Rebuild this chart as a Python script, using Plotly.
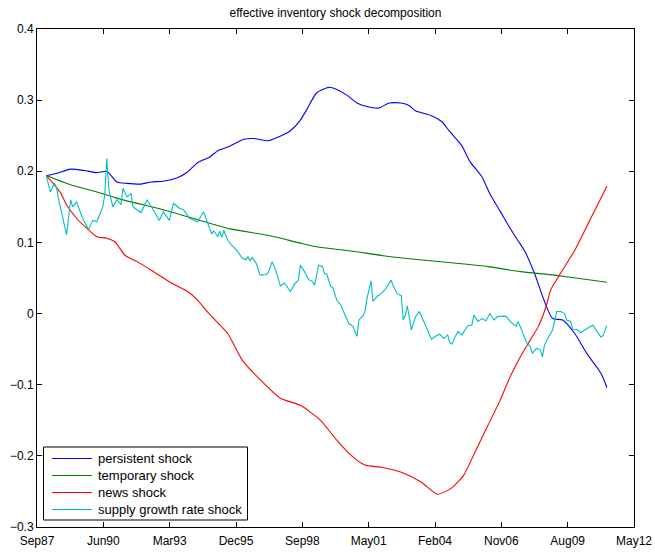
import pandas as pd
import plotly.graph_objects as go

# ---- series data (monthly observations, Jan 1988 - Mar 2011) ----
persistent_dates = [
    "1988-01", "1988-06", "1989-01", "1989-08", "1990-02", "1990-07", "1990-12",
    "1991-05", "1991-12", "1992-05", "1992-11", "1993-06", "1993-11", "1994-04",
    "1994-10", "1995-02", "1995-07", "1996-03", "1996-08", "1997-03", "1997-11",
    "1998-02", "1998-07", "1998-10", "1999-03", "1999-09", "2000-01", "2000-06",
    "2000-11", "2001-04", "2001-10", "2002-03", "2002-09", "2003-01", "2003-04",
    "2003-12", "2004-05", "2004-09", "2005-03", "2005-07", "2006-01", "2006-05",
    "2006-10", "2007-03", "2007-07", "2007-10", "2008-03", "2008-08", "2008-12",
    "2009-05", "2009-11", "2010-05", "2010-12", "2011-03",
]
persistent_shock = [
    0.194, 0.197, 0.203, 0.201, 0.198, 0.200, 0.185,
    0.183, 0.182, 0.185, 0.186, 0.191, 0.199, 0.212,
    0.220, 0.229, 0.234, 0.245, 0.246, 0.243, 0.252,
    0.257, 0.272, 0.286, 0.310, 0.318, 0.315, 0.307,
    0.296, 0.291, 0.289, 0.296, 0.296, 0.292, 0.285,
    0.278, 0.270, 0.256, 0.236, 0.214, 0.192, 0.168,
    0.144, 0.120, 0.102, 0.089, 0.057, 0.017, -0.007,
    -0.009, -0.028, -0.056, -0.084, -0.104,
]

temporary_dates = [
    "1988-01", "1989-01", "1990-02", "1990-11", "1991-07", "1992-11", "1994-04",
    "1995-08", "1997-03", "1998-07", "1999-03", "2000-08", "2002-01", "2003-05",
    "2004-11", "2006-04", "2007-08", "2009-01", "2010-05", "2011-03",
]
temporary_shock = [
    0.194, 0.181, 0.171, 0.163, 0.157, 0.146, 0.132,
    0.119, 0.110, 0.099, 0.094, 0.088, 0.081, 0.076,
    0.071, 0.066, 0.059, 0.054, 0.048, 0.044,
]

news_dates = [
    "1988-01", "1988-05", "1988-08", "1988-11", "1989-04", "1989-09", "1990-02",
    "1990-07", "1990-11", "1991-04", "1991-10", "1992-05", "1993-03", "1993-11",
    "1994-04", "1994-09", "1995-02", "1995-07", "1996-02", "1996-11", "1997-09",
    "1998-07", "1999-05", "2000-01", "2000-08", "2001-03", "2001-11", "2002-09",
    "2003-07", "2004-03", "2004-10", "2005-04", "2005-10", "2006-04", "2006-10",
    "2007-03", "2007-08", "2008-01", "2008-05", "2008-09", "2008-11", "2009-03",
    "2009-08", "2009-11", "2010-07", "2011-03",
]
news_shock = [
    0.194, 0.181, 0.170, 0.153, 0.134, 0.120, 0.108,
    0.106, 0.101, 0.082, 0.073, 0.061, 0.043, 0.031,
    0.019, 0.002, -0.013, -0.028, -0.065, -0.093, -0.119,
    -0.129, -0.150, -0.178, -0.199, -0.213, -0.216, -0.223,
    -0.237, -0.254, -0.245, -0.227, -0.192, -0.157, -0.122,
    -0.089, -0.061, -0.037, -0.018, 0.012, 0.033, 0.052,
    0.075, 0.089, 0.134, 0.179,
]

supply_dates = [
    "1988-01", "1988-03", "1988-05", "1988-06", "1988-07", "1988-09", "1988-11",
    "1989-01", "1989-02", "1989-04", "1989-06", "1989-07", "1989-10", "1989-12",
    "1990-02", "1990-05", "1990-06", "1990-07", "1990-08", "1990-10", "1990-12",
    "1991-02", "1991-03", "1991-05", "1991-07", "1991-08", "1991-12",
    "1992-03", "1992-06", "1992-09", "1992-11",
    "1993-02", "1993-04", "1993-07", "1993-09", "1993-12",
    "1994-04", "1994-07", "1994-09", "1994-11", "1994-12",
    "1995-02", "1995-03", "1995-04", "1995-05", "1995-07", "1995-09", "1995-11", "1995-12",
    "1996-02", "1996-04", "1996-05", "1996-06", "1996-07", "1996-09", "1996-11",
    "1997-02", "1997-03", "1997-05", "1997-07", "1997-09", "1997-11",
    "1998-02", "1998-04", "1998-06", "1998-07", "1998-09", "1998-11",
    "1999-01", "1999-02", "1999-04", "1999-06", "1999-07", "1999-08", "1999-10", "1999-11",
    "2000-01", "2000-03", "2000-05", "2000-07", "2000-09", "2000-11", "2000-12",
    "2001-02", "2001-03", "2001-04", "2001-06", "2001-07", "2001-09", "2001-11",
    "2002-01", "2002-03", "2002-04", "2002-05", "2002-07", "2002-09", "2002-10", "2002-11", "2002-12",
    "2003-02", "2003-04", "2003-06", "2003-08", "2003-10", "2003-12",
    "2004-02", "2004-04", "2004-06", "2004-08", "2004-09", "2004-10",
    "2005-01", "2005-03", "2005-06", "2005-08", "2005-09", "2005-11",
    "2006-01", "2006-03", "2006-05", "2006-07", "2006-09",
    "2007-01", "2007-03", "2007-06", "2007-07", "2007-09", "2007-11",
    "2008-01", "2008-02", "2008-04", "2008-06", "2008-07", "2008-08", "2008-10", "2008-12",
    "2009-02", "2009-04", "2009-06", "2009-07", "2009-09", "2009-10", "2009-12",
    "2010-02", "2010-04", "2010-06", "2010-08", "2010-10", "2010-12",
    "2011-01", "2011-03",
]
supply_growth_rate_shock = [
    0.194, 0.171, 0.183, 0.178, 0.162, 0.136, 0.111,
    0.160, 0.150, 0.157, 0.143, 0.134, 0.118, 0.131,
    0.129, 0.150, 0.167, 0.218, 0.174, 0.150, 0.160,
    0.153, 0.176, 0.164, 0.169, 0.150, 0.142,
    0.160, 0.146, 0.131, 0.143,
    0.131, 0.155, 0.148, 0.146, 0.134,
    0.129, 0.143, 0.127, 0.112, 0.116,
    0.108, 0.116, 0.107, 0.117, 0.103, 0.096, 0.089, 0.087,
    0.078, 0.076, 0.080, 0.074, 0.079, 0.071, 0.054,
    0.055, 0.057, 0.073, 0.059, 0.039, 0.043,
    0.031, 0.041, 0.047, 0.068, 0.059, 0.048,
    0.045, 0.040, 0.068, 0.066, 0.056, 0.056, 0.038, 0.037,
    0.019, 0.012, 0.000, -0.014, -0.018, -0.032, -0.009,
    -0.003, 0.003, 0.021, 0.046, 0.017, 0.024, 0.028,
    0.034, 0.042, 0.047, 0.039, 0.028, 0.025, -0.009, -0.002, 0.011,
    -0.023, -0.005, 0.003, -0.010, -0.025, -0.036,
    -0.032, -0.029, -0.035, -0.030, -0.041, -0.043,
    -0.025, -0.030, -0.017, -0.016, -0.002, -0.011,
    -0.007, -0.010, 0.000, -0.009, -0.004,
    -0.004, -0.011, -0.018, -0.011, -0.025, -0.040,
    -0.047, -0.056, -0.049, -0.051, -0.061, -0.044, -0.033, -0.023,
    0.003, 0.003, 0.000, -0.009, -0.011, -0.023, -0.022,
    -0.027, -0.023, -0.019, -0.016, -0.025, -0.033,
    -0.031, -0.017,
]

# ---- axis labels ----
x_tick_labels = ["Sep87", "Jun90", "Mar93", "Dec95", "Sep98",
                 "May01", "Feb04", "Nov06", "Aug09", "May12"]
y_tick_values = [-0.3, -0.2, -0.1, 0, 0.1, 0.2, 0.3, 0.4]
y_tick_labels = ["\u22120.3", "\u22120.2", "\u22120.1", "0", "0.1", "0.2", "0.3", "0.4"]

x_start, x_end = pd.Timestamp("1987-08-13"), pd.Timestamp("2012-04-13")
x_ticks = pd.date_range(x_start, x_end, periods=len(x_tick_labels))

series = [
    ("persistent shock", persistent_dates, persistent_shock, "#0000ff", "spline"),
    ("temporary shock", temporary_dates, temporary_shock, "#008000", "spline"),
    ("news shock", news_dates, news_shock, "#ff0000", "spline"),
    ("supply growth rate shock", supply_dates, supply_growth_rate_shock, "#00bfbf", "linear"),
]

W, H = 655, 556
M_L, M_R, M_T, M_B = 37, 21, 29, 29
PW, PH = W - M_L - M_R, H - M_T - M_B


def px_x(px):
    """Pixel column -> paper x coordinate."""
    return (px - M_L) / PW


def px_y(py):
    """Pixel row -> paper y coordinate."""
    return (H - M_B - py) / PH


fig = go.Figure()
for name, dates, vals, color, shape in series:
    fig.add_trace(go.Scatter(
        x=pd.to_datetime(dates), y=vals, name=name, mode="lines",
        line=dict(color=color, width=1.1, shape=shape, smoothing=0.6),
        showlegend=False,
    ))

font = "Liberation Sans, Arial, Helvetica, sans-serif"

# legend box drawn in the lower-left corner of the axes
shapes = [dict(type="rect", xref="paper", yref="paper",
               x0=px_x(43.5), x1=px_x(247.5), y0=px_y(520), y1=px_y(447),
               line=dict(color="black", width=1), fillcolor="white", layer="above")]
annotations = []
row_y = [458.5, 475.5, 492.5, 509.5]
for (name, _, _, color, _), ry in zip(series, row_y):
    shapes.append(dict(type="line", xref="paper", yref="paper",
                       x0=px_x(52), x1=px_x(92), y0=px_y(ry), y1=px_y(ry),
                       line=dict(color=color, width=1.1), layer="above"))
    annotations.append(dict(text=name, xref="paper", yref="paper",
                            x=px_x(96), y=px_y(ry), xanchor="left", yanchor="middle",
                            showarrow=False, font=dict(size=13, color="black")))

fig.update_layout(
    width=W, height=H,
    margin=dict(l=M_L, r=M_R, t=M_T, b=M_B, autoexpand=False),
    paper_bgcolor="white", plot_bgcolor="white",
    font=dict(family=font, size=12, color="black"),
    title=dict(text="effective inventory shock decomposition",
               x=0.5, xanchor="center", xref="paper",
               y=1 - 13 / H, yanchor="middle",
               font=dict(size=12, color="black")),
    showlegend=False,
    shapes=shapes,
    annotations=annotations,
)
fig.update_xaxes(
    type="date", range=[x_start, x_end], automargin=False,
    tickmode="array", tickvals=x_ticks, ticktext=x_tick_labels,
    ticks="inside", ticklen=5, tickcolor="black", tickwidth=1,
    showline=True, linecolor="black", linewidth=1, mirror="ticks",
    showgrid=False, zeroline=False, ticklabelstandoff=3,
    tickfont=dict(size=12, color="black"),
)
fig.update_yaxes(
    range=[-0.3, 0.4], automargin=False,
    tickmode="array", tickvals=y_tick_values, ticktext=y_tick_labels,
    ticks="inside", ticklen=5, tickcolor="black", tickwidth=1,
    showline=True, linecolor="black", linewidth=1, mirror="ticks",
    showgrid=False, zeroline=False,
    tickfont=dict(size=12, color="black"),
)

fig.write_html("out.html")
